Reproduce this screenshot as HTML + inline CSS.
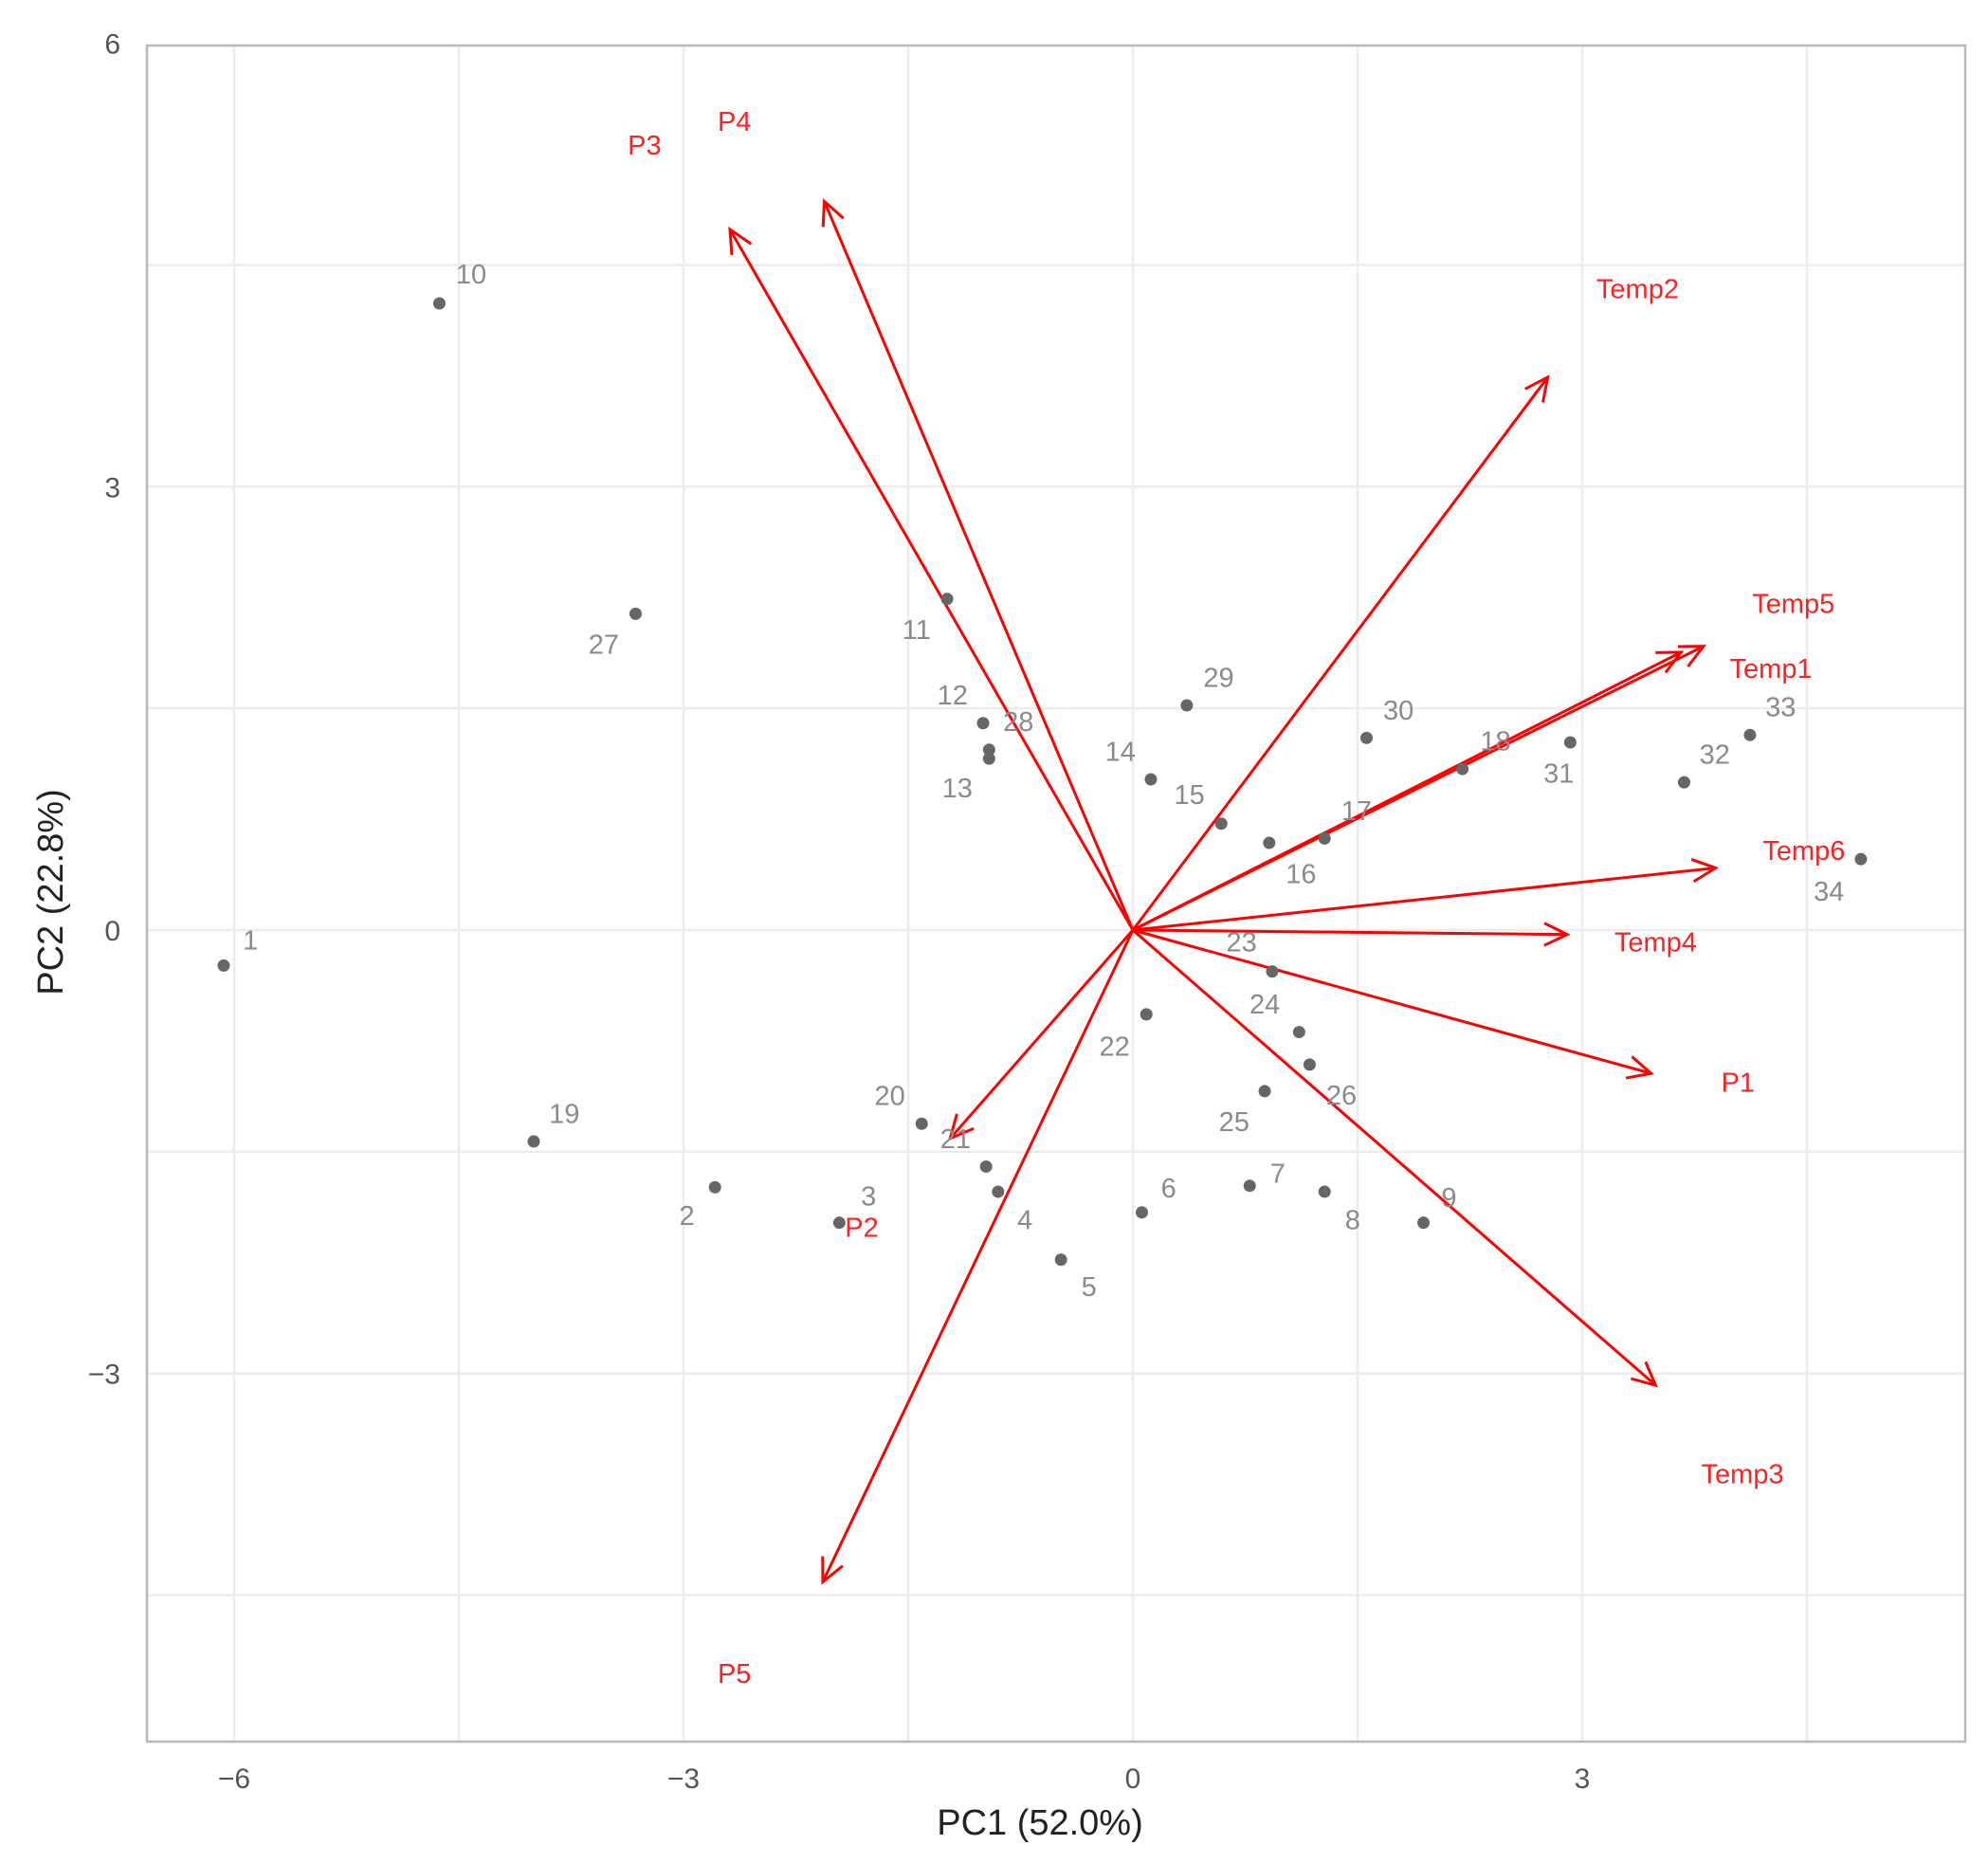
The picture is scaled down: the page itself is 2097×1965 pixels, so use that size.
<!DOCTYPE html>
<html><head><meta charset="utf-8">
<style>
html,body{margin:0;padding:0;background:#fff;}
svg{display:block;font-family:"Liberation Sans",sans-serif;}
</style></head>
<body>
<svg id="chart" width="2097" height="1965" viewBox="0 0 2097 1965" xmlns="http://www.w3.org/2000/svg">
<g id="grid"></g>
<rect x="155" y="48" width="1918" height="1789" fill="none" stroke="#b8b8b8" stroke-width="2.5"/>
<g id="axes"></g>
<g id="arrows"></g>
<g id="points"></g>
<text x="1097" y="1935" font-size="38" text-anchor="middle" fill="#222">PC1 (52.0%)</text>
<text x="0" y="0" font-size="38" text-anchor="middle" fill="#222" transform="translate(66,941) rotate(-90)">PC2 (22.8%)</text>
</svg>
<script>
const xTicks = [-6, -3, 0, 3];
const yTicks = [-3, 0, 3, 6];
const xGrid = [-6, -4.5, -3, -1.5, 0, 1.5, 3, 4.5];
const yGrid = [-4.5, -3, -1.5, 0, 1.5, 3, 4.5];
const pointIds = ["1","2","3","4","5","6","7","8","9","10","11","12","13","28","14","15","16","17","18","19","20","21","22","23","24","25","26","27","29","30","31","32","33","34"];
const pointX = [-6.07,-2.79,-1.96,-0.90,-0.48,0.06,0.78,1.28,1.94,-4.63,-1.24,-1.00,-0.96,-0.96,0.12,0.59,0.91,1.28,2.20,-4.00,-1.41,-0.98,0.09,0.93,1.11,0.88,1.18,-3.32,0.36,1.56,2.92,3.68,4.12,4.86];
const pointY = [-0.24,-1.74,-1.98,-1.77,-2.23,-1.91,-1.73,-1.77,-1.98,4.24,2.24,1.40,1.16,1.22,1.02,0.72,0.59,0.62,1.09,-1.43,-1.31,-1.60,-0.57,-0.28,-0.69,-1.09,-0.91,2.14,1.52,1.30,1.27,1.00,1.32,0.48];
// label offsets in pixels (styling only)
const labelDX = [21,-22,23,21,22,21,22,22,20,25,-24,-24,-25,23,-24,-25,25,25,26,24,-25,-24,-25,-24,-27,-24,25,-25,25,25,-9,24,24,-25];
const labelDY = [-20,22,-21,22,21,-19,-10,22,-20,-23,24,-22,23,-22,-22,-23,24,-22,-22,-22,-22,-22,25,-23,-22,24,24,24,-22,-22,24,-22,-22,25];
const varNames = ["Temp2","Temp5","Temp1","Temp6","Temp4","P1","Temp3","P5","P2","P3","P4"];
const varX = [2.77,3.81,3.66,3.89,2.90,3.46,3.49,-2.07,-1.22,-2.69,-2.06];
const varY = [3.74,1.92,1.88,0.42,-0.03,-0.97,-3.08,-4.41,-1.41,4.74,4.93];
const varLabelX = [3.37,4.41,4.26,4.48,3.49,4.04,4.07,-2.66,-1.81,-3.26,-2.66];
const varLabelY = [4.34,2.21,1.77,0.54,-0.08,-1.03,-3.68,-5.03,-2.01,5.31,5.47];

const S = 2097/1560;
function sx(v){ return 1195 + v*158; }
function sy(v){ return 981 - v*155.9; }
const NS="http://www.w3.org/2000/svg";
function mk(tag, attrs, parent){ const e=document.createElementNS(NS,tag); for(const k in attrs) e.setAttribute(k,attrs[k]); parent.appendChild(e); return e; }

const grid=document.getElementById('grid');
xGrid.forEach(v=>{ const l=mk('line',{x1:sx(v),x2:sx(v),y1:48,y2:1837,stroke:'#ececec','stroke-width':2.5},grid);

 });
yGrid.forEach(v=>{ const l=mk('line',{x1:155,x2:2073,y1:sy(v),y2:sy(v),stroke:'#ececec','stroke-width':2.5},grid);

 });

const axes=document.getElementById('axes');
xTicks.forEach(v=>{ const t=mk('text',{x:sx(v),y:1886,'font-size':30,'text-anchor':'middle',fill:'#555'},axes); t.textContent=v<0?'\u2212'+(-v):v;

 });
yTicks.forEach(v=>{ const t=mk('text',{x:127,y:sy(v)+11,'font-size':30,'text-anchor':'end',fill:'#555'},axes); t.textContent=v<0?'\u2212'+(-v):v;

 });

const pts=document.getElementById('points');
pointIds.forEach((id,i)=>{
  const c=mk('circle',{cx:sx(pointX[i]),cy:sy(pointY[i]),r:6.5,fill:'#666'},pts);
  
  
  const t=mk('text',{x:sx(pointX[i])+labelDX[i]*S,y:sy(pointY[i])+labelDY[i]*S+10,'font-size':29,'text-anchor':'middle',fill:'#8a8a8a'},pts);
  t.textContent=id;
  
  
});

const arr=document.getElementById('arrows');
const ox=sx(0), oy=sy(0);
varNames.forEach((n,i)=>{
  const tx=sx(varX[i]), ty=sy(varY[i]);
  const g=mk('g',{},arr);
  
  
  mk('line',{x1:ox,y1:oy,x2:tx,y2:ty,stroke:'#ff0000','stroke-width':3},g);
  const a=Math.atan2(ty-oy,tx-ox), L=27, w=0.45;
  const p1=[tx-L*Math.cos(a-w), ty-L*Math.sin(a-w)], p2=[tx-L*Math.cos(a+w), ty-L*Math.sin(a+w)];
  mk('polyline',{points:`${p1[0]},${p1[1]} ${tx},${ty} ${p2[0]},${p2[1]}`,fill:'none',stroke:'#ff0000','stroke-width':3},g);
  const t=mk('text',{x:sx(varLabelX[i]),y:sy(varLabelY[i])+10,'font-size':29,'text-anchor':'middle',fill:'#ff2020'},arr);
  t.textContent=n;
  
  
});
</script>
</body></html>
